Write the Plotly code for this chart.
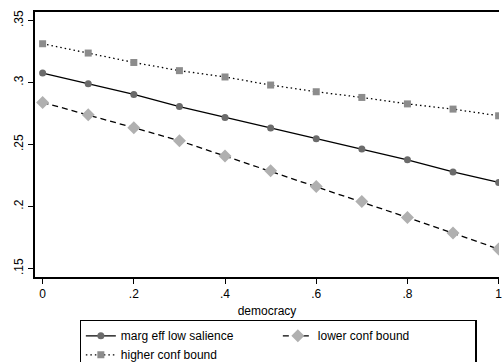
import plotly.graph_objects as go

democracy = [0.0, 0.1, 0.2, 0.3, 0.4, 0.5, 0.6, 0.7, 0.8, 0.9, 1.0]
marg_eff = [0.3076, 0.2990, 0.2903, 0.2805, 0.2718, 0.2632, 0.2546, 0.2463, 0.2376, 0.2278, 0.2194]
lower_bound = [0.2839, 0.2740, 0.2635, 0.2530, 0.2406, 0.2288, 0.2161, 0.2040, 0.1911, 0.1785, 0.1656]
higher_bound = [0.3312, 0.3237, 0.3161, 0.3095, 0.3044, 0.2979, 0.2925, 0.2879, 0.2827, 0.2785, 0.2731]

x_ticks = [0, 0.2, 0.4, 0.6, 0.8, 1.0]
x_ticktext = ["0", ".2", ".4", ".6", ".8", "1"]
y_ticks = [0.15, 0.2, 0.25, 0.3, 0.35]
y_ticktext = [".15", ".2", ".25", ".3", ".35"]

FONT = "Liberation Sans, Arial, sans-serif"

fig = go.Figure()
fig.add_trace(go.Scatter(
    x=democracy, y=marg_eff, name="marg eff low salience", mode="lines+markers",
    line=dict(color="black", width=1.3, dash="solid"),
    marker=dict(symbol="circle", size=7, color="#6b6b6b"),
))
fig.add_trace(go.Scatter(
    x=democracy, y=lower_bound, name="lower conf bound", mode="lines+markers",
    line=dict(color="black", width=1.3, dash="6px,4px"),
    marker=dict(symbol="diamond", size=10, color="#b0b0b0"),
))
fig.add_trace(go.Scatter(
    x=democracy, y=higher_bound, name="higher conf bound", mode="lines+markers",
    line=dict(color="black", width=1.3, dash="1.5px,3px"),
    marker=dict(symbol="square", size=7, color="#8c8c8c"),
))

fig.update_layout(
    width=502, height=362,
    margin=dict(l=35, r=0, t=12, b=85),
    paper_bgcolor="white", plot_bgcolor="white",
    font=dict(family=FONT, size=12, color="black"),
    showlegend=True,
    legend=dict(
        orientation="h", x=0.096, xanchor="left",
        yref="container", y=0.116, yanchor="top",
        bordercolor="black", borderwidth=1.3, bgcolor="white",
        entrywidth=152, entrywidthmode="pixels",
        font=dict(family=FONT, size=12, color="black"),
        traceorder="normal", tracegroupgap=0,
    ),
    xaxis=dict(
        range=[-0.0167, 1.0008], tickvals=x_ticks, ticktext=x_ticktext,
        showgrid=False, zeroline=False, showline=True, linecolor="black", linewidth=1.5,
        mirror=True, ticks="outside", ticklen=5, tickcolor="black",
        ticklabeloverflow="allow",
        title=dict(text="democracy", standoff=6, font=dict(size=12)),
    ),
    yaxis=dict(
        range=[0.1431, 0.3568], tickvals=y_ticks, ticktext=y_ticktext,
        showgrid=False, zeroline=False, showline=True, linecolor="black", linewidth=1.5,
        mirror=False, ticks="outside", ticklen=5, tickcolor="black", tickangle=-90,
    ),
)

fig.write_html("out.html")
